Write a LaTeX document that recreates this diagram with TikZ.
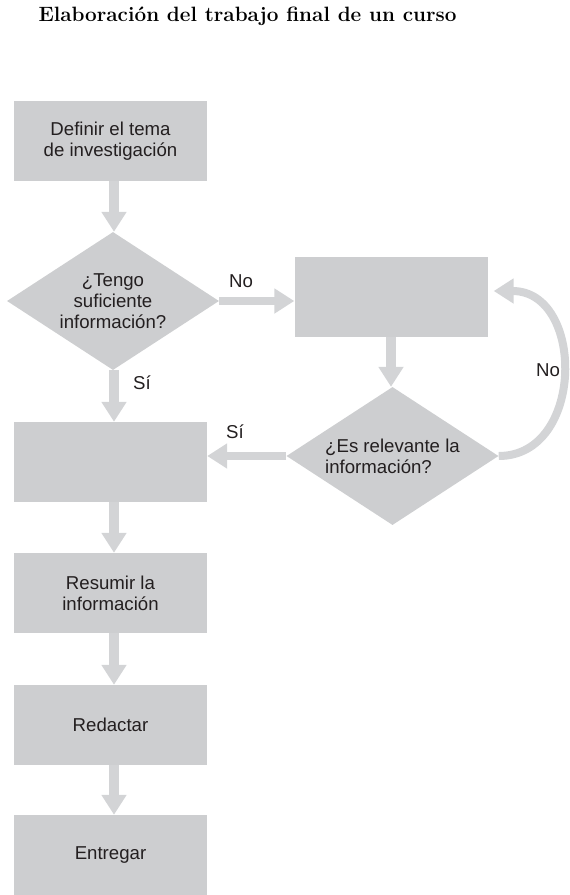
\documentclass[tikz,border=0pt]{standalone}
\usepackage{fontspec}
\newfontfamily\arialf{Liberation Sans}
\usetikzlibrary{arrows.meta,shapes.geometric}
\definecolor{boxgray}{HTML}{CDCED0}
\definecolor{arrgray}{HTML}{D3D4D6}
\definecolor{txt}{HTML}{231F20}
\newcommand\sansfs{\arialf\fontsize{18.7}{21}\selectfont}
\newcommand\titlefs{\normalfont\bfseries\fontsize{20.8}{25}\selectfont}
\begin{document}
\begin{tikzpicture}[x=1bp,y=-1bp,
  box/.style={rectangle, fill=boxgray, minimum width=193bp, minimum height=80bp, inner sep=0pt, align=center, font=\sansfs, text=txt},
  dia/.style={diamond, fill=boxgray, minimum width=212bp, minimum height=138bp, inner sep=0pt},
  flowv/.style={draw=arrgray, line width=10.5bp, -{Triangle[length=20bp,width=24bp]}},
  flowh/.style={draw=arrgray, line width=8bp, -{Triangle[length=20bp,width=24bp]}},
  lbl/.style={font=\sansfs, text=txt, inner sep=0pt}]
\useasboundingbox (0,0) rectangle (570,895);
\node[anchor=base, inner sep=0pt, font=\titlefs] (title) at (247.5,21.5) {Elaboración del trabajo final de un curso};
\node[box] (b1) at (110.5,141) {Definir el tema\\de investigación};
\node[dia] (d1) at (113,301) {};
\node[lbl, align=center] (t1) at (d1.center) {¿Tengo\\suficiente\\información?};
\node[box] (b2) at (391,297) {};
\node[dia] (d2) at (392.5,456) {};
\node[lbl, align=left] (t2) at (d2.center) {¿Es relevante la\\información?};
\node[box] (b3) at (110.5,462) {};
\node[box] (b4) at (110.5,593) {Resumir la\\información};
\node[box] (b5) at (110.5,725) {Redactar};
\node[box] (b6) at (110.5,855) {Entregar};
\coordinate (colx) at (114,0);
\draw[flowv] (b1.south -| colx) -- (d1.north -| colx);
\draw[flowv] (d1.south -| colx) -- (b3.north -| colx);
\draw[flowv] (b3.south -| colx) -- (b4.north -| colx);
\draw[flowv] (b4.south -| colx) -- (b5.north -| colx);
\draw[flowv] (b5.south -| colx) -- (b6.north -| colx);
\draw[flowh] (d1.east) -- (d1.east -| b2.west);
\draw[flowv] (b2.south) -- (b2.south |- d2.north);
\draw[flowh] (d2.west) -- (d2.west -| b3.east);
\draw[flowh] (d2.east) .. controls (585,456) and (585,291) .. ([xshift=6bp,yshift=6bp]b2.east);
\node[lbl] (lno1) at (241,281) {No};
\node[lbl] (lsi1) at (142,383) {Sí};
\node[lbl] (lsi2) at (235,432) {Sí};
\node[lbl] (lno2) at (548,370) {No};
\end{tikzpicture}
\end{document}
